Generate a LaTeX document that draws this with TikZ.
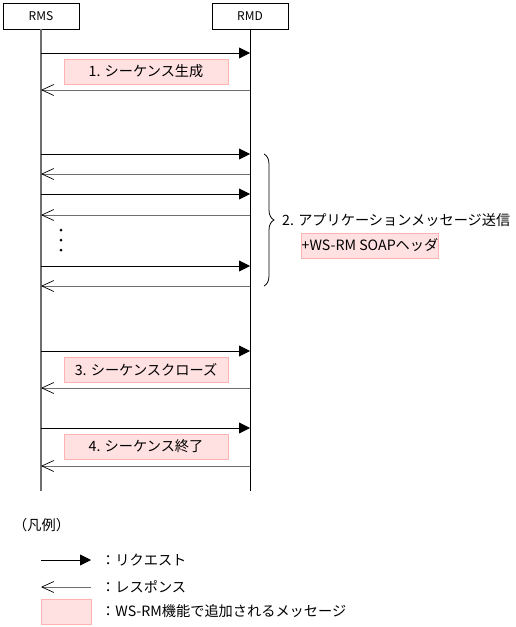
\documentclass[tikz,border=0pt]{standalone}
\usepackage{fontspec}
\setmainfont{Noto Sans CJK JP}
\usetikzlibrary{arrows.meta,decorations.pathreplacing}
\definecolor{addfill}{RGB}{255,225,225}
\definecolor{addline}{RGB}{255,178,178}
\definecolor{respgray}{RGB}{110,110,110}
\tikzset{
  lifebox/.style={draw,fill=white,minimum width=76pt,minimum height=26pt,inner sep=0pt,font=\fontsize{12}{14}\selectfont},
  addbox/.style={draw=addline,fill=addfill,minimum height=25pt,inner sep=0pt},
  request/.style={draw,line width=0.8pt,-{Triangle[length=11pt,width=11pt]}},
  response/.style={draw=respgray,line width=1pt,-{Straight Barb[length=12pt,width=11pt,line width=0.7pt,black]}},
}
\begin{document}
\begin{tikzpicture}[x=1pt,y=-1pt,font=\fontsize{14.2}{16}\selectfont]
  \useasboundingbox(0,0)rectangle(515,627);
  %ライフライン
  \node[lifebox](RMS)at(41,16){RMS};
  \node[lifebox](RMD)at(250,16){RMD};
  \coordinate(RMSend)at(41,491);
  \coordinate(RMDend)at(250,491);
  \path[draw,respgray,line width=1.2pt](RMS)to(RMSend);
  \path[draw,line width=0.8pt](RMD)to(RMDend);
  %メッセージの位置
  \foreach \n/\y in {a/53,b/90,c/154,d/174,e/194,f/215,g/266,h/286,i/351,j/388,k/428,l/466}{
    \coordinate(s\n)at(41,\y);
    \coordinate(d\n)at(250,\y);
  }
  %リクエスト
  \foreach \n in {a,c,e,g,i,k}
    \path[request](s\n)to(d\n);
  %レスポンス
  \foreach \n in {b,d,f,h,j,l}
    \path[response](d\n)to(s\n);
  %省略
  \foreach \i/\y in {1/230,2/240,3/250}
    \node[circle,fill,inner sep=0pt,minimum size=3pt](dot\i)at(61,\y){};
  %WS-RMで追加されるメッセージ
  \node[addbox,minimum width=164pt](create)at(146,71.5){1. シーケンス生成};
  \node[addbox,minimum width=164pt](close)at(146,369.5){3. シーケンスクローズ};
  \node[addbox,minimum width=164pt](terminate)at(146,446.5){4. シーケンス終了};
  %アプリケーションメッセージ
  \coordinate(braceTop)at(264,154);
  \coordinate(braceBottom)at(264,286);
  \path[draw,line width=0.8pt,decorate,decoration={brace,amplitude=10pt}](braceTop)to(braceBottom);
  \node[anchor=west,inner sep=0pt](appmsg)at(282,220){2. アプリケーションメッセージ送信};
  \node[addbox,minimum width=136pt](header)at(370,245.5){+WS-RM SOAPヘッダ};
  %凡例
  \node[anchor=west,inner sep=0pt](legend)at(13,525){（凡例）};
  \coordinate(reqFrom)at(41,560);
  \coordinate(reqTo)at(91,560);
  \path[request](reqFrom)to(reqTo);
  \node[anchor=west,inner sep=0pt](reqText)at(101,560){：リクエスト};
  \coordinate(resFrom)at(91,587);
  \coordinate(resTo)at(41,587);
  \path[response](resFrom)to(resTo);
  \node[anchor=west,inner sep=0pt](resText)at(101,587){：レスポンス};
  \node[addbox,minimum width=50pt](addSample)at(66,611.5){};
  \node[anchor=west,inner sep=0pt](addText)at(101,611.5){：WS-RM機能で追加されるメッセージ};
\end{tikzpicture}
\end{document}
